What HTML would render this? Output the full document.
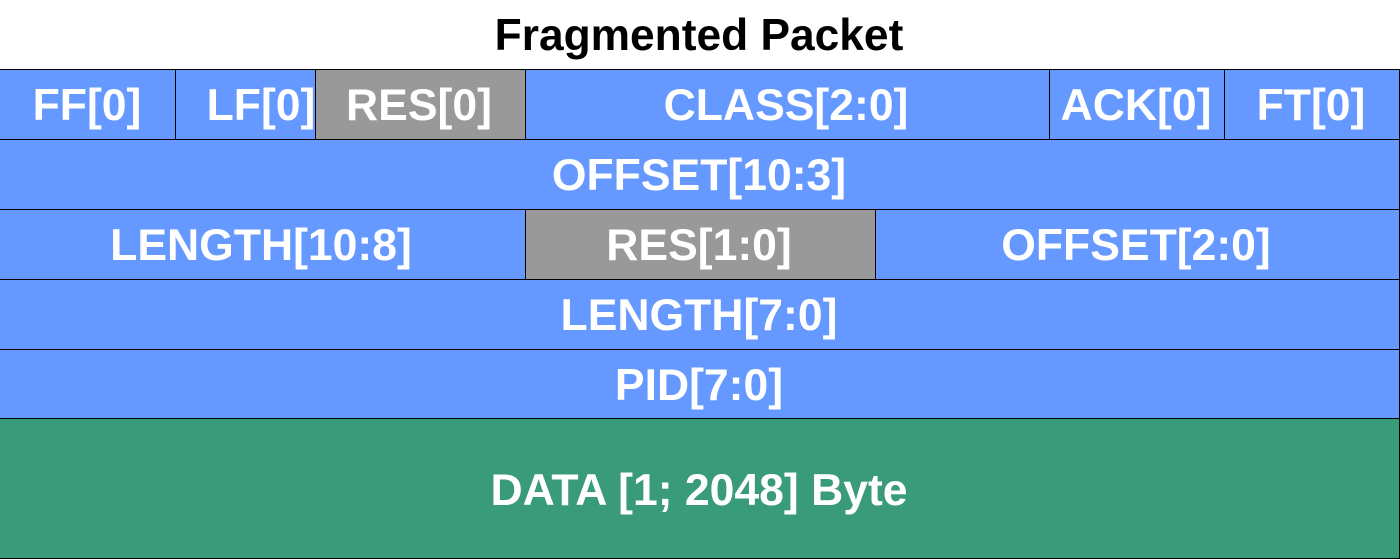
<!DOCTYPE html>
<html><head><meta charset="utf-8"><style>
html,body{margin:0;padding:0;background:#fff;width:1400px;height:560px;overflow:hidden}
svg text{font-family:"Liberation Sans",sans-serif;font-weight:bold}
</style></head><body>
<svg width="1400" height="560" viewBox="0 0 1400 560" xmlns="http://www.w3.org/2000/svg">
<text x="699" y="50" font-size="44.3" text-anchor="middle" fill="#000">Fragmented Packet</text>
<g stroke="#000" stroke-width="1">
<rect x="-1" y="69.5" width="176.5" height="70" fill="#6699ff"/>
<rect x="175.5" y="69.5" width="140" height="70" fill="#6699ff"/>
<rect x="315.5" y="69.5" width="210" height="70" fill="#999999"/>
<rect x="525.5" y="69.5" width="524" height="70" fill="#6699ff"/>
<rect x="1049.5" y="69.5" width="175" height="70" fill="#6699ff"/>
<rect x="1224.5" y="69.5" width="175" height="70" fill="#6699ff"/>
<rect x="-1" y="139.5" width="1400.5" height="70" fill="#6699ff"/>
<rect x="-1" y="209.5" width="526.5" height="70" fill="#6699ff"/>
<rect x="525.5" y="209.5" width="350" height="70" fill="#999999"/>
<rect x="875.5" y="209.5" width="524" height="70" fill="#6699ff"/>
<rect x="-1" y="279.5" width="1400.5" height="70" fill="#6699ff"/>
<rect x="-1" y="349.5" width="1400.5" height="69" fill="#6699ff"/>
<rect x="-1" y="418.5" width="1400.5" height="140" fill="#3a9b7a"/>
</g>
<g fill="#fff" font-size="44.5" text-anchor="middle">
<text x="87" y="120">FF[0]</text>
<text x="261" y="120">LF[0]</text>
<text x="419" y="120">RES[0]</text>
<text x="786" y="120">CLASS[2:0]</text>
<text x="1136" y="120">ACK[0]</text>
<text x="1311" y="120">FT[0]</text>
<text x="699" y="190">OFFSET[10:3]</text>
<text x="261" y="260">LENGTH[10:8]</text>
<text x="699" y="260">RES[1:0]</text>
<text x="1136" y="260">OFFSET[2:0]</text>
<text x="699" y="330">LENGTH[7:0]</text>
<text x="699" y="400">PID[7:0]</text>
<text x="699" y="505">DATA [1; 2048] Byte</text>
</g>
</svg>
</body></html>
